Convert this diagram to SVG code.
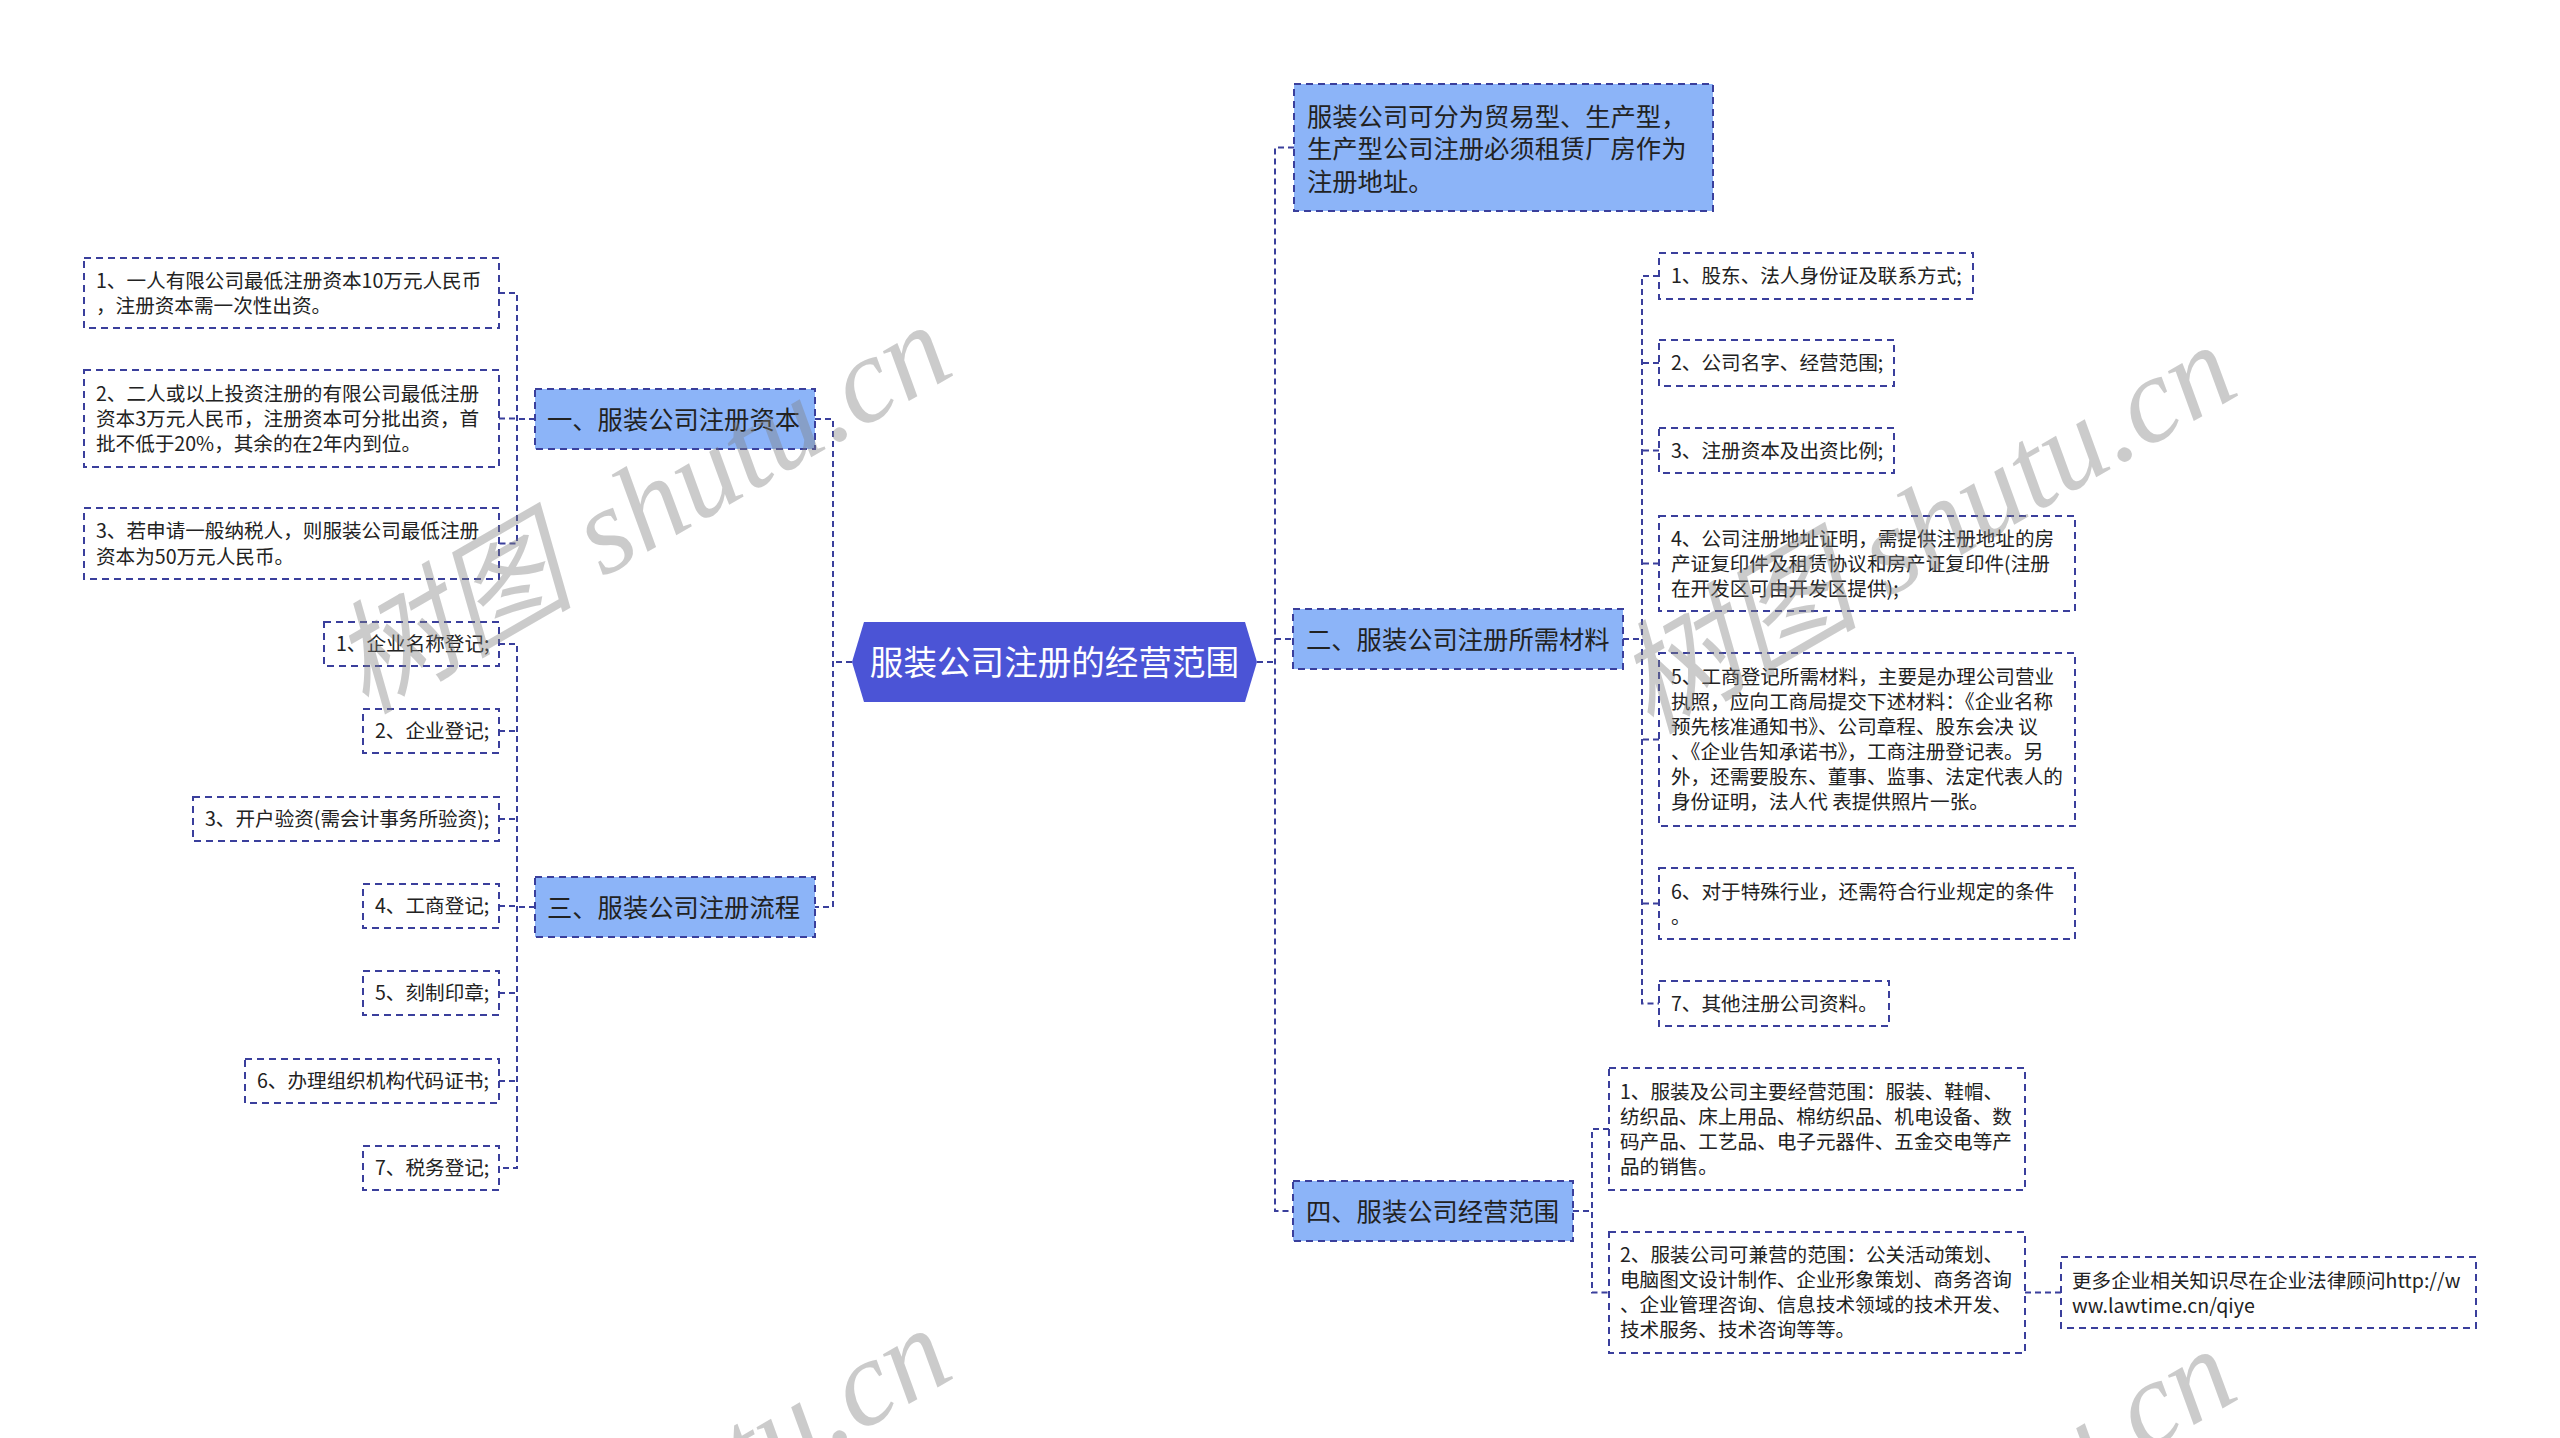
<svg xmlns="http://www.w3.org/2000/svg" width="2560" height="1438" viewBox="0 0 2560 1438">
<style>
.bg{fill:#ffffff}
.box{fill:#ffffff;stroke:#3a3f9c;stroke-width:2;stroke-dasharray:7 5}
.l1{fill:#8cb4f8;stroke:#3a3f9c;stroke-width:2;stroke-dasharray:7 5}
.hub{fill:#4b54d6}
.conn path{fill:none;stroke:#3a3f9c;stroke-width:2;stroke-dasharray:6 4}
text{font-family:"Noto Sans CJK SC","Microsoft YaHei",sans-serif;fill:#222222}
.t2{font-size:19.6px}
.t1{font-size:25.3px}
.t0{font-size:33.6px;fill:#ffffff}
.wm{font-family:"Liberation Serif","Noto Sans CJK SC",serif;font-style:italic;font-size:122px;fill:#808080;opacity:0.4}
</style>
<rect class="bg" x="0" y="0" width="2560" height="1438"/>

<g id="connectors" class="conn">
  <path d="M852,662 H833"/>
  <path d="M815,419 H833 V907 H815"/>
  <path d="M1257,662 H1275"/>
  <path d="M1294,147.5 H1275 V1211 H1293"/>
  <path d="M1275,639 H1293"/>
  <path d="M535,419 H517"/>
  <path d="M499,293 H517 V543.5 H499"/>
  <path d="M499,418.5 H517"/>
  <path d="M535,907 H517"/>
  <path d="M499,644 H517 V1168 H499"/>
  <path d="M499,731 H517"/>
  <path d="M499,819 H517"/>
  <path d="M499,906 H517"/>
  <path d="M499,993 H517"/>
  <path d="M499,1081 H517"/>
  <path d="M1623,639 H1642"/>
  <path d="M1659,276 H1642 V1003.5 H1659"/>
  <path d="M1659,363 H1642"/>
  <path d="M1659,450.5 H1642"/>
  <path d="M1659,563.5 H1642"/>
  <path d="M1659,739.5 H1642"/>
  <path d="M1659,903.5 H1642"/>
  <path d="M1573,1211 H1592"/>
  <path d="M1609,1129 H1592 V1292.5 H1609"/>
  <path d="M2025,1292.5 H2061"/>
</g>

<g id="root">
  <polygon class="hub" points="852,662 864,622 1245,622 1257,662 1245,702 864,702"/>
  <text class="t0" x="1054.5" y="674.5" text-anchor="middle">服装公司注册的经营范围</text>
</g>

<g id="b1">
  <rect class="l1" x="535" y="389" width="280" height="60"/>
  <text class="t1" x="547" y="428.6">一、服装公司注册资本</text>
</g>
<g id="b3">
  <rect class="l1" x="535" y="877" width="280" height="60"/>
  <text class="t1" x="547" y="916.6">三、服装公司注册流程</text>
</g>
<g id="b0">
  <rect class="l1" x="1294" y="84" width="419" height="127"/>
  <text class="t1" x="1307" y="125.6">服装公司可分为贸易型、生产型，</text>
  <text class="t1" x="1307" y="158.1">生产型公司注册必须租赁厂房作为</text>
  <text class="t1" x="1307" y="190.6">注册地址。</text>
</g>
<g id="b2">
  <rect class="l1" x="1293" y="609" width="330" height="60"/>
  <text class="t1" x="1306" y="648.6">二、服装公司注册所需材料</text>
</g>
<g id="b4">
  <rect class="l1" x="1293" y="1181" width="280" height="60"/>
  <text class="t1" x="1306" y="1220.6">四、服装公司经营范围</text>
</g>

<g id="c1-1">
  <rect class="box" x="84" y="258" width="415" height="70"/>
  <text class="t2" x="96" y="287.7">1、一人有限公司最低注册资本10万元人民币</text>
  <text class="t2" x="96" y="313.1">，注册资本需一次性出资。</text>
</g>
<g id="c1-2">
  <rect class="box" x="84" y="370" width="415" height="97"/>
  <text class="t2" x="96" y="400.5">2、二人或以上投资注册的有限公司最低注册</text>
  <text class="t2" x="96" y="425.9">资本3万元人民币，注册资本可分批出资，首</text>
  <text class="t2" x="96" y="451.3">批不低于20%，其余的在2年内到位。</text>
</g>
<g id="c1-3">
  <rect class="box" x="84" y="508" width="415" height="71"/>
  <text class="t2" x="96" y="538.2">3、若申请一般纳税人，则服装公司最低注册</text>
  <text class="t2" x="96" y="563.6">资本为50万元人民币。</text>
</g>

<g id="c3-1">
  <rect class="box" x="324" y="622" width="175" height="44"/>
  <text class="t2" x="336" y="651.4">1、企业名称登记;</text>
</g>
<g id="c3-2">
  <rect class="box" x="363" y="709" width="136" height="44"/>
  <text class="t2" x="375" y="738.4">2、企业登记;</text>
</g>
<g id="c3-3">
  <rect class="box" x="193" y="797" width="306" height="44"/>
  <text class="t2" x="205" y="826.4">3、开户验资(需会计事务所验资);</text>
</g>
<g id="c3-4">
  <rect class="box" x="363" y="884" width="136" height="44"/>
  <text class="t2" x="375" y="913.4">4、工商登记;</text>
</g>
<g id="c3-5">
  <rect class="box" x="363" y="971" width="136" height="44"/>
  <text class="t2" x="375" y="1000.4">5、刻制印章;</text>
</g>
<g id="c3-6">
  <rect class="box" x="245" y="1059" width="254" height="44"/>
  <text class="t2" x="257" y="1088.4">6、办理组织机构代码证书;</text>
</g>
<g id="c3-7">
  <rect class="box" x="363" y="1146" width="136" height="44"/>
  <text class="t2" x="375" y="1175.4">7、税务登记;</text>
</g>

<g id="c2-1">
  <rect class="box" x="1659" y="253" width="314" height="46"/>
  <text class="t2" x="1671" y="283.4">1、股东、法人身份证及联系方式;</text>
</g>
<g id="c2-2">
  <rect class="box" x="1659" y="340" width="235" height="46"/>
  <text class="t2" x="1671" y="370.4">2、公司名字、经营范围;</text>
</g>
<g id="c2-3">
  <rect class="box" x="1659" y="428" width="235" height="45"/>
  <text class="t2" x="1671" y="457.9">3、注册资本及出资比例;</text>
</g>
<g id="c2-4">
  <rect class="box" x="1659" y="516" width="416" height="95"/>
  <text class="t2" x="1671" y="545.9">4、公司注册地址证明，需提供注册地址的房</text>
  <text class="t2" x="1671" y="570.9">产证复印件及租赁协议和房产证复印件(注册</text>
  <text class="t2" x="1671" y="595.9">在开发区可由开发区提供);</text>
</g>
<g id="c2-5">
  <rect class="box" x="1659" y="653" width="416" height="173"/>
  <text class="t2" x="1671" y="684.4">5、工商登记所需材料，主要是办理公司营业</text>
  <text class="t2" x="1671" y="709.4">执照，应向工商局提交下述材料：《企业名称</text>
  <text class="t2" x="1671" y="734.4" xml:space="preserve">预先核准通知书》、公司章程、股东会决 议</text>
  <text class="t2" x="1671" y="759.4">、《企业告知承诺书》，工商注册登记表。另</text>
  <text class="t2" x="1671" y="784.4">外，还需要股东、董事、监事、法定代表人的</text>
  <text class="t2" x="1671" y="809.4" xml:space="preserve">身份证明，法人代 表提供照片一张。</text>
</g>
<g id="c2-6">
  <rect class="box" x="1659" y="868" width="416" height="71"/>
  <text class="t2" x="1671" y="899.4">6、对于特殊行业，还需符合行业规定的条件</text>
  <text class="t2" x="1671" y="924.4">。</text>
</g>
<g id="c2-7">
  <rect class="box" x="1659" y="981" width="230" height="45"/>
  <text class="t2" x="1671" y="1010.9">7、其他注册公司资料。</text>
</g>

<g id="c4-1">
  <rect class="box" x="1609" y="1068" width="416" height="122"/>
  <text class="t2" x="1620" y="1099.4">1、服装及公司主要经营范围：服装、鞋帽、</text>
  <text class="t2" x="1620" y="1124.4">纺织品、床上用品、棉纺织品、机电设备、数</text>
  <text class="t2" x="1620" y="1149.4">码产品、工艺品、电子元器件、五金交电等产</text>
  <text class="t2" x="1620" y="1174.4">品的销售。</text>
</g>
<g id="c4-2">
  <rect class="box" x="1609" y="1232" width="416" height="121"/>
  <text class="t2" x="1620" y="1262.4">2、服装公司可兼营的范围：公关活动策划、</text>
  <text class="t2" x="1620" y="1287.4">电脑图文设计制作、企业形象策划、商务咨询</text>
  <text class="t2" x="1620" y="1312.4">、企业管理咨询、信息技术领域的技术开发、</text>
  <text class="t2" x="1620" y="1337.4">技术服务、技术咨询等等。</text>
</g>
<g id="c4-2-1">
  <rect class="box" x="2061" y="1257" width="415" height="71"/>
  <text class="t2" x="2072" y="1288.4">更多企业相关知识尽在企业法律顾问http://w</text>
  <text class="t2" x="2072" y="1312.9">ww.lawtime.cn/qiye</text>
</g>

<g id="watermark">
  <text class="wm" x="365" y="715" transform="rotate(-30 365 715)">树图 shutu.cn</text>
  <text class="wm" x="1650" y="735" transform="rotate(-30 1650 735)">树图 shutu.cn</text>
  <text class="wm" x="365" y="1718" transform="rotate(-30 365 1718)">树图 shutu.cn</text>
  <text class="wm" x="1650" y="1739" transform="rotate(-30 1650 1739)">树图 shutu.cn</text>
</g>
</svg>
